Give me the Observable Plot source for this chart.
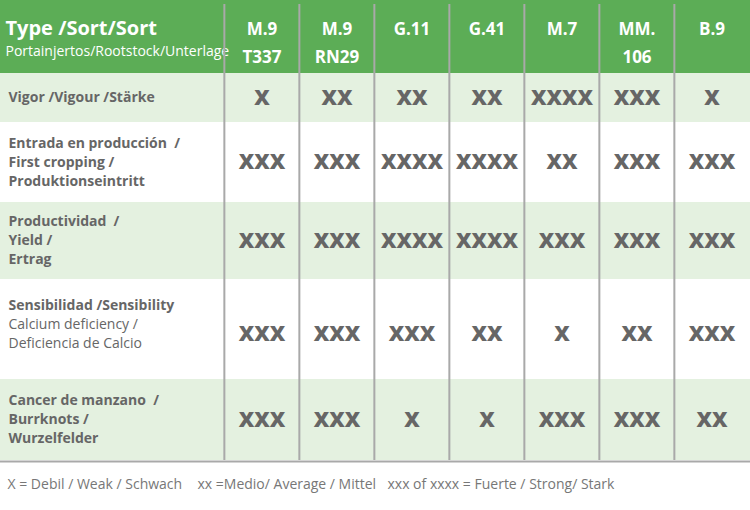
<!DOCTYPE html>
<html><head><meta charset="utf-8">
<script src="https://cdn.jsdelivr.net/npm/d3@7"></script>
<script src="https://cdn.jsdelivr.net/npm/@observablehq/plot@0.6"></script>
<style>body{margin:0;background:#fff} svg{display:block}</style>
</head><body><div id="chart"></div>
<script>
// ---- data ----
const rootstocks = ["M.9\nT337", "M.9\nRN29", "G.11", "G.41", "M.7", "MM.\n106", "B.9"];
const traitTitles = [
  "Vigor /Vigour /Stärke",
  "Entrada en producción  /\nFirst cropping /\nProduktionseintritt",
  "Productividad  /\nYield /\nErtrag",
  "Sensibilidad /Sensibility",
  "Cancer de manzano  /\nBurrknots /\nWurzelfelder"
];
const traitNotes = ["", "", "", "Calcium deficiency /\nDeficiencia de Calcio", ""];
const vigor = [1, 2, 2, 2, 4, 3, 1];
const firstCropping = [3, 3, 4, 4, 2, 3, 3];
const yieldLevel = [3, 3, 4, 4, 3, 3, 3];
const calciumSensibility = [3, 3, 3, 2, 1, 2, 3];
const burrknots = [3, 3, 1, 1, 3, 3, 2];
const headerTitle = "Type /Sort/Sort";
const headerSubtitle = "Portainjertos/Rootstock/Unterlage";
const legendItems = ["X = Debil / Weak / Schwach", "xx =Medio/ Average / Mittel", "xxx of xxxx = Fuerte / Strong/ Stark"];

// ---- layout ----
const W = 750, H = 510;
const colStart = 223;
const rowEdges = [73, 122, 202, 279, 379, 460];
const lineH = 19;
const legendOffsets = [7, 197, 387];
const green = "#5cad56", light = "#e4f1e0", textGray = "#666666", ruleGray = "#a9a9a9";
const values = [vigor, firstCropping, yieldLevel, calciumSensibility, burrknots];
const bw = (W - colStart) / rootstocks.length;
const mid = i => (rowEdges[i] + rowEdges[i + 1]) / 2;

const rows = traitTitles.map((t, i) => ({i, y1: rowEdges[i], y2: rowEdges[i + 1]}));
const labelLines = traitTitles.flatMap((t, i) => {
  const bold = t.split("\n");
  const notes = traitNotes[i] ? traitNotes[i].split("\n") : [];
  const all = bold.map(s => ({text: s, bold: true})).concat(notes.map(s => ({text: s, bold: false})));
  const shift = notes.length ? -5 : 0;
  return all.map((l, k) => ({...l, y: mid(i) + (k - (all.length - 1) / 2) * lineH + shift}));
});
const cells = values.flatMap((arr, i) => arr.map((v, j) => ({
  root: rootstocks[j], y: mid(i) + (traitNotes[i] ? 5 : 0), text: "X".repeat(v)
})));

const chart = Plot.plot({
  width: W, height: H, margin: 0,
  x: {type: "band", domain: rootstocks, range: [colStart, W], padding: 0, axis: null},
  y: {type: "linear", domain: [0, H], range: [0, H], axis: null},
  style: {fontFamily: "'Open Sans', sans-serif", background: "#fff"},
  marks: [
    Plot.rect([0], {y1: 0, y2: rowEdges[0], fill: green}),
    Plot.rect(rows.filter(r => r.i % 2 === 0), {y1: "y1", y2: "y2", fill: light}),
    Plot.text([headerTitle], {text: d => d, y: 28.5, frameAnchor: "left", dx: 5, textAnchor: "start", lineAnchor: "middle", fontSize: 20, fontWeight: "bold", fill: "white"}),
    Plot.text([headerSubtitle], {text: d => d, y: 51.5, frameAnchor: "left", dx: 5, textAnchor: "start", lineAnchor: "middle", fontSize: 14, fill: "white"}),
    Plot.text(rootstocks, {x: d => d, text: d => d, y: 15.5, lineAnchor: "top", lineHeight: 1.6, fontSize: 17, fontWeight: "bold", fill: "white"}),
    Plot.ruleX(rootstocks, {x: d => d, y1: 4, y2: rowEdges[rowEdges.length - 1], dx: -bw / 2, stroke: ruleGray, strokeWidth: 2}),
    Plot.ruleY([rowEdges[rowEdges.length - 1] + 1], {y: d => d, stroke: ruleGray, strokeWidth: 2}),
    Plot.text(labelLines.filter(d => d.bold), {y: "y", text: "text", frameAnchor: "left", dx: 8, textAnchor: "start", lineAnchor: "middle", fontSize: 14, fontWeight: "bold", fill: textGray}),
    Plot.text(labelLines.filter(d => !d.bold), {y: "y", text: "text", frameAnchor: "left", dx: 8, textAnchor: "start", lineAnchor: "middle", fontSize: 14, fill: textGray}),
    Plot.text(cells, {x: "root", y: "y", text: "text", lineAnchor: "middle", fontSize: 21.5, fontWeight: 800, fill: textGray}),
    ...legendItems.map((s, k) => Plot.text([s], {text: d => d, y: 484, frameAnchor: "left", dx: legendOffsets[k], textAnchor: "start", lineAnchor: "middle", fontSize: 14, fill: "#777777"}))
  ]
});
document.getElementById("chart").append(chart);
</script>
</body></html>
